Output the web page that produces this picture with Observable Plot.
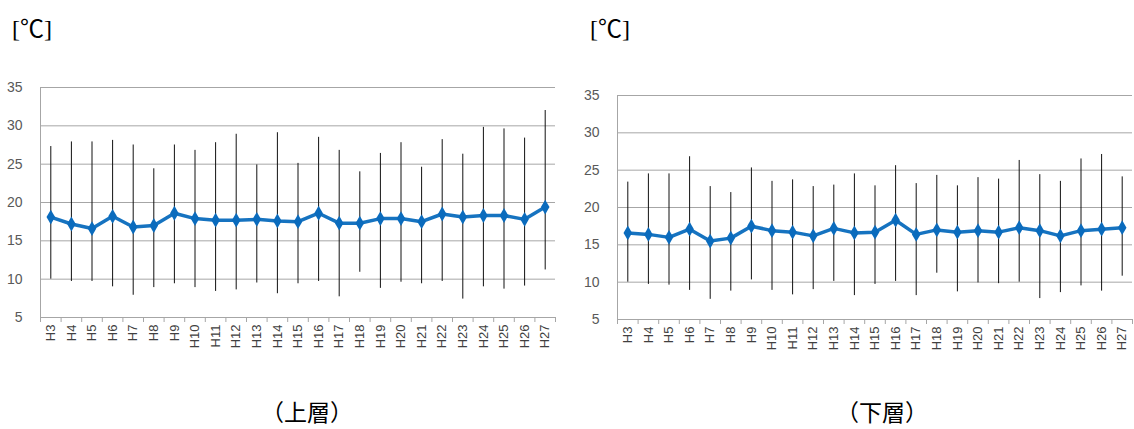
<!DOCTYPE html>
<html>
<head>
<meta charset="utf-8">
<script src="https://cdn.jsdelivr.net/npm/d3@7"></script>
<script src="https://cdn.jsdelivr.net/npm/@observablehq/plot@0.6"></script>
<style>
  body { margin: 0; background: #fff; }
  #wrap { position: relative; width: 1134px; height: 429px; overflow: hidden; background: #fff; }
  .chart { position: absolute; top: 0; }
  .unit { position: absolute; font-family: "Liberation Serif", "Noto Sans CJK JP", serif; font-weight: normal; font-size: 24px; color: #000; top: 9px; }
  .cap { position: absolute; font-family: "Noto Sans CJK JP", sans-serif; font-size: 23px; line-height: 1; color: #000; top: 400px; width: 200px; text-align: center; }
</style>
</head>
<body>
<div id="wrap"></div>
<script>
const labels = ["H3","H4","H5","H6","H7","H8","H9","H10","H11","H12","H13","H14","H15","H16","H17","H18","H19","H20","H21","H22","H23","H24","H25","H26","H27"];

const upperMean = [18.1,17.2,16.6,18.2,16.8,17.0,18.6,17.9,17.7,17.7,17.8,17.6,17.5,18.6,17.3,17.3,17.9,17.9,17.5,18.5,18.1,18.3,18.3,17.8,19.4];
const upperMax  = [27.3,27.9,27.9,28.1,27.5,24.4,27.5,26.8,27.8,28.9,24.9,29.1,25.1,28.5,26.8,24.0,26.4,27.8,24.6,28.2,26.3,29.8,29.6,28.4,32.0];
const upperMin  = [10.0,9.7,9.7,9.0,7.9,8.9,9.4,8.9,8.4,8.6,9.5,8.1,9.4,9.7,7.7,10.9,8.8,9.6,9.4,9.7,7.4,9.0,8.7,9.1,11.2];

const lowerMean = [16.6,16.4,16.0,17.1,15.5,15.9,17.5,16.9,16.7,16.2,17.2,16.6,16.7,18.3,16.4,17.0,16.7,16.9,16.7,17.3,16.9,16.2,16.9,17.1,17.3];
const lowerMax  = [23.4,24.5,24.5,26.8,22.8,22.0,25.3,23.5,23.7,22.8,23.0,24.5,22.9,25.6,23.2,24.3,22.9,24.0,23.8,26.3,24.4,23.5,26.5,27.1,24.1];
const lowerMin  = [10.0,9.7,9.6,8.9,7.7,8.8,10.3,8.9,8.3,9.0,10.1,8.2,9.7,10.1,8.2,11.2,8.7,9.9,9.8,10.0,7.8,8.6,9.5,8.8,10.8];

const yTicks = [5,10,15,20,25,30,35];
const unitLabel = "[℃]";
const captions = ["（上層）", "（下層）"];

const BLUE = "#0a6bbd";
const GRID = "#a6a6a6";

function makeChart(means, maxs, mins, m) {
  const data = labels.map((l, i) => ({label: l, pos: i + 0.5, mean: means[i], hi: maxs[i], lo: mins[i]}));
  const bounds = d3.range(labels.length + 1);
  return Plot.plot({
    width: 567,
    height: 370,
    marginTop: m.top,
    marginBottom: m.bottom,
    marginLeft: m.left,
    marginRight: m.right,
    style: {fontFamily: "'Liberation Sans', Arial, sans-serif", background: "#fff"},
    x: {domain: [0, labels.length], axis: null, label: null},
    y: {domain: [5, 35], axis: null, label: null},
    marks: [
      Plot.ruleY(yTicks.filter(t => t > 5), {stroke: GRID, strokeWidth: 1}),
      Plot.ruleY([5], {stroke: GRID, strokeWidth: 1}),
      Plot.ruleX([0], {stroke: GRID, strokeWidth: 1}),
      Plot.axisY({ticks: yTicks, tickSize: 0, tickPadding: 18, fontSize: 14, color: "#595959", label: null, tickFormat: d => String(d)}),
      Plot.axisX({ticks: bounds, tickSize: 5, tickFormat: () => "", stroke: GRID, color: GRID, label: null}),
      Plot.axisX({ticks: data.map(d => d.pos), tickSize: 0, tickPadding: 7, tickRotate: -90, fontSize: 13, color: "#404040", label: null, tickFormat: d => labels[Math.round(d - 0.5)]}),
      Plot.ruleX(data, {x: "pos", y1: "lo", y2: "hi", stroke: "#111", strokeWidth: 1}),
      Plot.line(data, {x: "pos", y: "mean", stroke: BLUE, strokeWidth: 3.5, strokeOpacity: 0.95}),
      Plot.dot(data, {x: "pos", y: "mean", symbol: "diamond", r: 4.5, fill: BLUE, stroke: null})
    ]
  });
}

const wrap = document.getElementById("wrap");

const c1 = makeChart(upperMean, upperMax, upperMin, {top: 87, bottom: 53, left: 40, right: 12});
c1.classList.add("chart");
c1.style.left = "0px";
wrap.appendChild(c1);

const c2 = makeChart(lowerMean, lowerMax, lowerMin, {top: 95, bottom: 51, left: 50, right: 2});
c2.classList.add("chart");
c2.style.left = "567px";
wrap.appendChild(c2);

const u1 = document.createElement("div");
u1.className = "unit"; u1.style.left = "12px"; u1.textContent = unitLabel;
wrap.appendChild(u1);
const u2 = document.createElement("div");
u2.className = "unit"; u2.style.left = "590px"; u2.textContent = unitLabel;
wrap.appendChild(u2);

const k1 = document.createElement("div");
k1.className = "cap"; k1.style.left = (307 - 100) + "px"; k1.textContent = captions[0];
wrap.appendChild(k1);
const k2 = document.createElement("div");
k2.className = "cap"; k2.style.left = (882 - 100) + "px"; k2.textContent = captions[1];
wrap.appendChild(k2);
</script>
</body>
</html>
